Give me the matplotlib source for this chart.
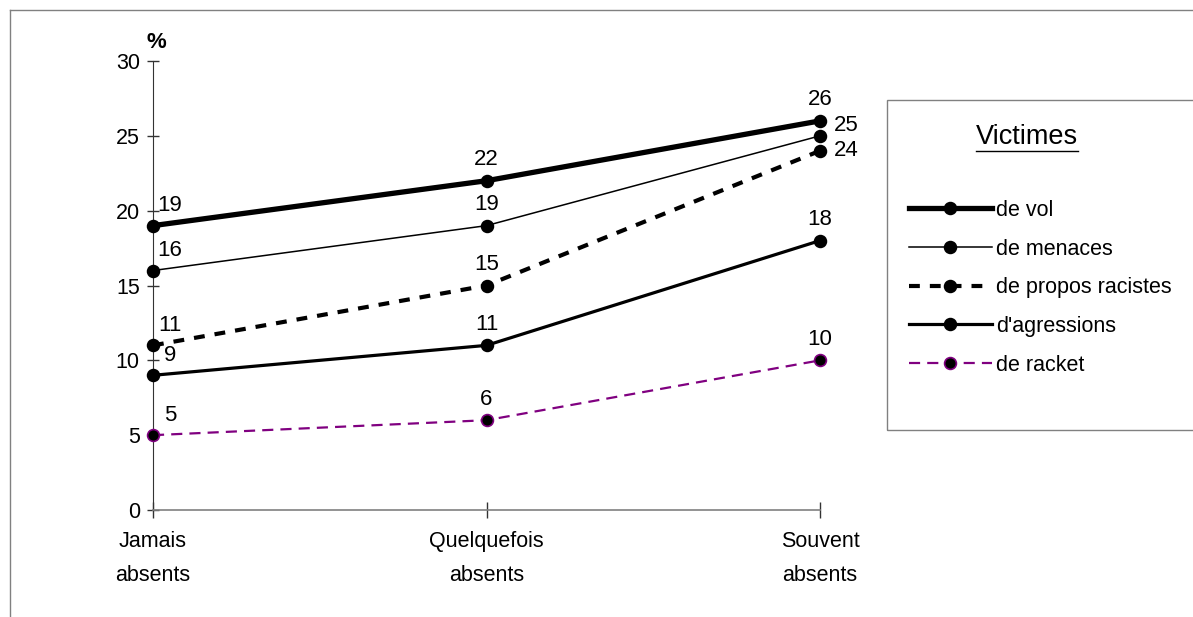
import numpy as np
import matplotlib
matplotlib.use('Agg')
import matplotlib.pyplot as plt
from matplotlib.lines import Line2D
from matplotlib.patches import Rectangle

plt.rcParams['font.family'] = ['Liberation Sans', 'DejaVu Sans']

# --- data ---
categories = ['Jamais\nabsents', 'Quelquefois\nabsents', 'Souvent\nabsents']
vol = [19, 22, 26]
menaces = [16, 19, 25]
propos_racistes = [11, 15, 24]
agressions = [9, 11, 18]
racket = [5, 6, 10]
series_names = ['de vol', 'de menaces', 'de propos racistes', "d'agressions", 'de racket']

W, H, DPI = 1193, 617, 100
fig = plt.figure(figsize=(W / DPI, H / DPI), dpi=DPI)
ax = fig.add_axes([153 / W, 1 - 510 / H, 667 / W, 449 / H])

x = np.arange(len(categories))
styles = [
    dict(color='black', lw=3.8, ls='-', mfc='black', mec='black'),
    dict(color='black', lw=1.1, ls='-', mfc='black', mec='black'),
    dict(color='black', lw=3.0, ls=(0, (2.6, 2.4)), mfc='black', mec='black'),
    dict(color='black', lw=2.3, ls='-', mfc='black', mec='black'),
    dict(color='#800080', lw=1.6, ls=(0, (5, 3.2)), mfc='black', mec='#800080'),
]
data = [vol, menaces, propos_racistes, agressions, racket]

handles = []
for vals, name, st in zip(data, series_names, styles):
    h, = ax.plot(x, vals, color=st['color'], lw=st['lw'], ls=st['ls'],
                 marker='o', ms=8.5, mfc=st['mfc'], mec=st['mec'], mew=1.2,
                 label=name, clip_on=False, zorder=3)
    handles.append(h)

# value labels (offsets in pixels)
default_off = [(17, 20), (0, 21), (0, 21)]
special_off = {(1, 2): (26, 10), (2, 2): (26, 0)}
for si, vals in enumerate(data):
    for i, v in enumerate(vals):
        off = special_off.get((si, i), default_off[i])
        ax.annotate(str(v), (x[i], v), xytext=off, textcoords='offset pixels',
                    ha='center', va='center', fontsize=16, zorder=4)

ax.set_xlim(0, 2)
ax.set_ylim(0, 30)
ax.set_yticks(range(0, 31, 5))
ax.set_xticks(x)
ax.set_xticklabels(categories, fontsize=15.5, linespacing=1.8)
ax.tick_params(axis='y', direction='inout', length=9, width=1, labelsize=15.5,
               pad=5, color='#333333')
ax.tick_params(axis='x', direction='inout', length=12, width=1, pad=9,
               color='#333333')
for s in ['top', 'right']:
    ax.spines[s].set_visible(False)
ax.spines['left'].set_color('#333333')
ax.spines['bottom'].set_color('#808080')
ax.spines['bottom'].set_linewidth(1.2)

ax.annotate('%', (0, 30), xytext=(3, 19), textcoords='offset pixels',
            ha='center', va='center', fontsize=16, fontweight='bold')

# outer frame (cut by the image edge on right and bottom)
fig.add_artist(Line2D([10 / W, 10 / W], [0, 1 - 10 / H], transform=fig.transFigure,
                      color='#808080', lw=1))
fig.add_artist(Line2D([10 / W, 1], [1 - 10 / H, 1 - 10 / H], transform=fig.transFigure,
                      color='#808080', lw=1))

# legend box
fig.add_artist(Rectangle((887 / W, 1 - 430 / H), 0.3, 330 / H, transform=fig.transFigure,
                         fill=False, edgecolor='#808080', lw=1))
title = fig.text(1027 / W, 1 - 137 / H, 'Victimes', ha='center', va='center', fontsize=19.5)
fig.canvas.draw()
bb = title.get_window_extent()
fig.add_artist(Line2D([bb.x0 / W, bb.x1 / W], [(bb.y0 - 1) / H, (bb.y0 - 1) / H],
                      transform=fig.transFigure, color='black', lw=1))

fig.legend(handles, series_names, loc='upper left',
           bbox_to_anchor=(909 / W, 1 - 200 / H), frameon=False, fontsize=15.5,
           handlelength=3.85, handletextpad=0.2, labelspacing=0.82,
           borderpad=0, borderaxespad=0, numpoints=1)

fig.savefig('out.png', dpi=DPI)
